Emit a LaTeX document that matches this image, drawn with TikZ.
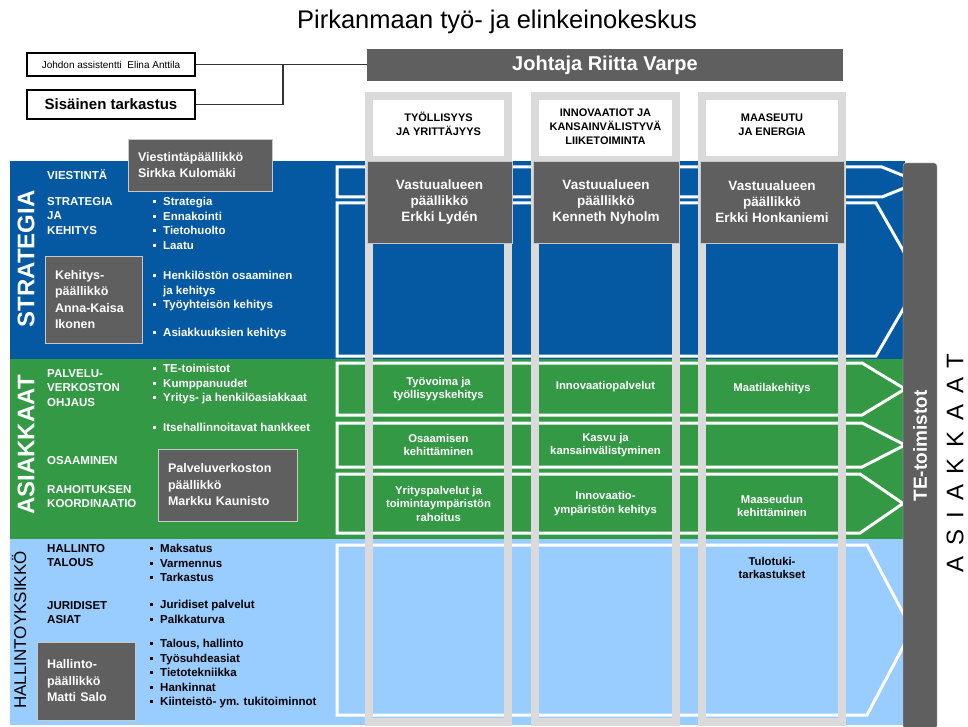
\documentclass[tikz,border=0pt]{standalone}
\usepackage{fontspec}
\setmainfont{Liberation Sans}
\usetikzlibrary{positioning}

\definecolor{stratblue}{HTML}{0459A2}
\definecolor{asiakgreen}{HTML}{339944}
\definecolor{hallblue}{HTML}{99CCFF}
\definecolor{boxgray}{HTML}{5F5F5F}
\definecolor{framegray}{HTML}{DADADA}
\definecolor{edgegray}{HTML}{C8C8C8}

\newcommand{\fsz}[2]{\fontsize{#1}{#2}\selectfont}
\newcommand{\blt}{\rule[2.5pt]{3pt}{3pt}\hspace{7pt}}

\begin{document}
\begin{tikzpicture} [x = 1pt, y = -1pt,
    chev/.style = {draw = white, line width = 3pt, line join = miter},
    frame/.style = {draw = framegray, line width = 8pt},
    hdr/.style = {font = \bfseries\fsz{11}{14}, align = center, anchor = north, inner sep = 0},
    mgr/.style = {fill = boxgray, draw = edgegray, text = white, font = \bfseries\fsz{13.5}{16},
        align = center, minimum height = 82pt, inner sep = 0},
    chief/.style = {fill = boxgray, draw = edgegray, text = white, font = \bfseries\fsz{12.5}{16.5},
        align = left, inner xsep = 10pt, inner ysep = 0},
    lbl/.style = {text = white, font = \bfseries\fsz{11.5}{14.5}, align = left,
        anchor = north west, inner sep = 0},
    cell/.style = {text = white, font = \bfseries\fsz{11.3}{13.5}, align = center, inner sep = 0},
    side/.style = {rotate = 90, text = white, font = \bfseries\fsz{24}{24}, inner sep = 0},
    conn/.style = {draw = black!80, line width = 1.2pt}]

    \useasboundingbox (0,0) rectangle (968,727);

    \fill [stratblue] (10,161) rectangle (905,359);
    \fill [asiakgreen] (10,359) rectangle (905,539);
    \fill [hallblue] (10,539) rectangle (905,725);

    \draw [chev] (337,167) -- (882,167) -- (919,182) -- (882,197) -- (337,197) -- cycle;
    \draw [chev] (337,203) -- (876,203) -- (920,280) -- (876,356) -- (337,356) -- cycle;
    \draw [chev] (337,363) -- (862,363) -- (905,389) -- (862,415) -- (337,415) -- cycle;
    \draw [chev] (337,423) -- (862,423) -- (905,445) -- (862,467) -- (337,467) -- cycle;
    \draw [chev] (337,474) -- (860,474) -- (903,503.5) -- (860,533) -- (337,533) -- cycle;
    \draw [chev] (337,545) -- (867,545) -- (912,630) -- (867,715) -- (337,715) -- cycle;

    \draw [frame, fill = white] (369,96) rectangle (508,160);
    \draw [frame] (369,160) -- (369,722) -- (508,722) -- (508,160);
    \draw [frame, fill = white] (534.5,96) rectangle (676,160);
    \draw [frame] (534.5,160) -- (534.5,722) -- (676,722) -- (676,160);
    \draw [frame, fill = white] (702,96) rectangle (842,160);
    \draw [frame] (702,160) -- (702,722) -- (842,722) -- (842,160);

    \node (h1) [hdr] at (438.5,112) {TYÖLLISYYS\\JA YRITTÄJYYS};
    \node (h2) [hdr] at (605.5,109) {INNOVAATIOT JA\\KANSAINVÄLISTYVÄ\\LIIKETOIMINTA};
    \node (h3) [hdr] at (772,114) {MAASEUTU\\JA ENERGIA};

    \node (m1) [mgr, minimum width = 145pt] at (439.5,202) {Vastuualueen\\päällikkö\\Erkki Lydén};
    \node (m2) [mgr, minimum width = 146pt] at (606,202) {Vastuualueen\\päällikkö\\Kenneth Nyholm};
    \node (m3) [mgr, minimum width = 144pt] at (772,202) {Vastuualueen\\päällikkö\\Erkki Honkaniemi};

    \node (c11) [cell] at (438.5,389) {Työvoima ja\\työllisyyskehitys};
    \node (c12) [cell] at (438.5,445) {Osaamisen\\kehittäminen};
    \node (c13) [cell] at (438.5,503.5) {Yrityspalvelut ja\\toimintaympäristön\\rahoitus};
    \node (c21) [cell] at (605.5,387) {Innovaatiopalvelut};
    \node (c22) [cell] at (605.5,445) {Kasvu ja\\kansainvälistyminen};
    \node (c23) [cell] at (605.5,503.5) {Innovaatio-\\ympäristön kehitys};
    \node (c31) [cell] at (772,389) {Maatilakehitys};
    \node (c33) [cell] at (772,506) {Maaseudun\\kehittäminen};
    \node (c34) [cell, text = black, anchor = north] at (772,557) {Tulotuki-\\tarkastukset};

    \node (strat) [side] at (26,259) {STRATEGIA};
    \node (asiak) [side] at (26,445) {ASIAKKAAT};
    \node (hallyks) [side, text = black, font = \fsz{17}{17}] at (19,630) {HALLINTOYKSIKKÖ};

    \node (viest) [lbl] at (47,169) {VIESTINTÄ};
    \node (strkeh) [lbl] at (47,197) {STRATEGIA\\JA\\KEHITYS};
    \node (sb1) [lbl] at (153,197) {\blt Strategia\\\blt Ennakointi\\\blt Tietohuolto\\\blt Laatu};
    \node (sb2) [lbl] at (153,271) {\blt Henkilöstön osaaminen\\\hspace{10pt}ja kehitys\\\blt Työyhteisön kehitys};
    \node (sb3) [lbl] at (153,328) {\blt Asiakkuuksien kehitys};

    \node (palvohj) [lbl] at (47,369) {PALVELU-\\VERKOSTON\\OHJAUS};
    \node (ab1) [lbl] at (153,364) {\blt TE-toimistot\\\blt Kumppanuudet\\\blt Yritys- ja henkilöasiakkaat};
    \node (ab2) [lbl] at (153,423) {\blt Itsehallinnoitavat hankkeet};
    \node (osaam) [lbl] at (47,456) {OSAAMINEN};
    \node (rahkoor) [lbl] at (47,485) {RAHOITUKSEN\\KOORDINAATIO};

    \node (haltal) [lbl, text = black] at (47,544) {HALLINTO\\TALOUS};
    \node (hb1) [lbl, text = black] at (150,544) {\blt Maksatus\\\blt Varmennus\\\blt Tarkastus};
    \node (jurid) [lbl, text = black] at (47,601) {JURIDISET\\ASIAT};
    \node (hb2) [lbl, text = black] at (150,600) {\blt Juridiset palvelut\\\blt Palkkaturva};
    \node (hb3) [lbl, text = black] at (150,639) {\blt Talous, hallinto\\\blt Työsuhdeasiat\\\blt Tietotekniikka\\\blt Hankinnat\\\blt Kiinteistö- ym. tukitoiminnot};

    \node (viestpaal) [chief, text width = 124pt, minimum height = 52pt] at (200,165) {Viestintäpäällikkö\\Sirkka Kulomäki};
    \node (kehpaal) [chief, text width = 77pt, minimum height = 87pt] at (93.5,299.5) {Kehitys-\\päällikkö\\Anna-Kaisa\\Ikonen};
    \node (palvpaal) [chief, text width = 119pt, minimum height = 72pt] at (227.5,485) {Palveluverkoston\\päällikkö\\Markku Kaunisto};
    \node (hallpaal) [chief, text width = 78pt, minimum height = 78pt] at (86,681) {Hallinto-\\päällikkö\\Matti Salo};

    \node (te) [rotate = 90, fill = boxgray, draw = edgegray, rounded corners = 3pt, minimum width = 566pt,
        minimum height = 34pt, inner sep = 0, text = white, font = \bfseries\fsz{19}{22}] at (920,446) {TE-toimistot};
    \node (asiakkaat) [rotate = 90, inner sep = 0, font = \fsz{24}{24}\addfontfeatures{LetterSpace = 45}] at (955,463) {ASIAKKAAT};

    \node (boss) [fill = boxgray, text = white, font = \bfseries\fsz{20}{22}, minimum width = 476pt,
        minimum height = 32pt, inner sep = 0] at (605,65) {Johtaja Riitta Varpe};
    \node (assist) [draw, line width = 1.5pt, fill = white, minimum width = 168pt, minimum height = 23pt,
        inner sep = 0, font = \fsz{10}{12}] at (111,64.5) {Johdon assistentti\ \ Elina Anttila};
    \node (audit) [draw, line width = 2pt, fill = white, minimum width = 168pt, minimum height = 29pt,
        inner sep = 0, font = \bfseries\fsz{15}{17}, below = 12pt of assist] {Sisäinen tarkastus};
    \coordinate (jct) at (283,64.5);
    \draw [conn] (assist.east) -- (assist.east -| boss.west);
    \draw [conn] (audit.east) -| (jct);

    \node (title) [font = \fsz{25.5}{28}] at (497,22) {Pirkanmaan työ- ja elinkeinokeskus};
\end{tikzpicture}
\end{document}
